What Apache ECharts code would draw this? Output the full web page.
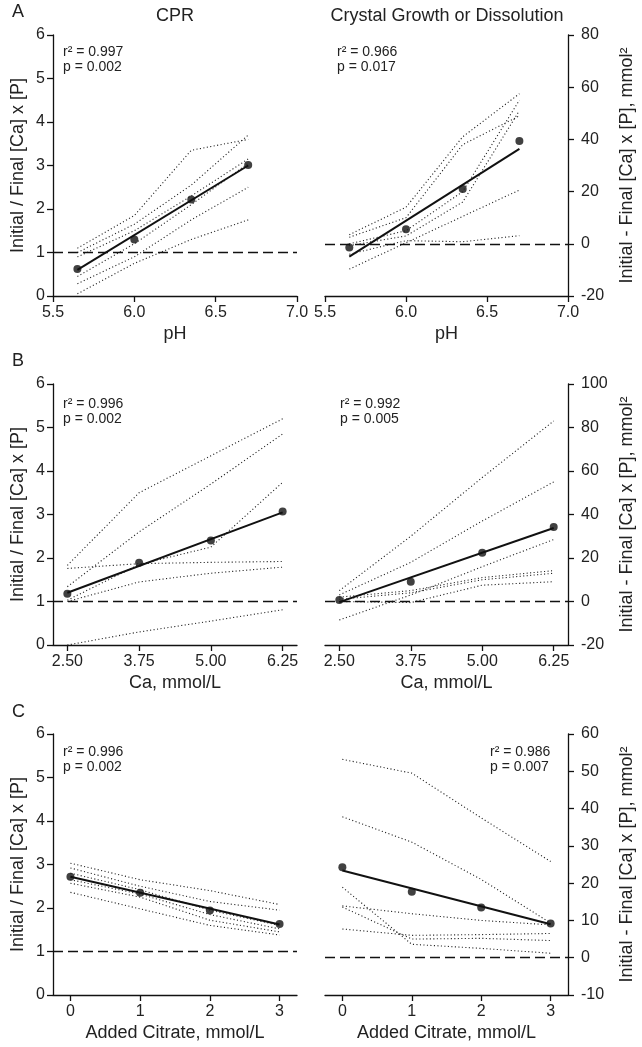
<!DOCTYPE html>
<html><head><meta charset="utf-8">
<script src="https://cdn.jsdelivr.net/npm/echarts@6/dist/echarts.min.js"></script>
<style>html,body{margin:0;padding:0;background:#fff}#c{width:642px;height:1047px}</style>
</head><body><div id="c"></div>
<script>
// ---- data ----
const phX = [5.65, 6.0, 6.35, 6.7];
const caX = [2.5, 3.75, 5.0, 6.25];
const citX = [0, 1, 2, 3];

const phTicks = [5.5, 6.0, 6.5, 7.0];
const caTicks = [2.5, 3.75, 5.0, 6.25];
const citTicks = [0, 1, 2, 3];

// Row A: pH
const cprPhMean = [0.62, 1.30, 2.22, 3.01];
const cprPhFit = [0.6, 3.0];
const cprPhRuns = [
  [1.1, 1.85, 3.35, 3.6],
  [1.0, 1.65, 2.55, 3.7],
  [0.9, 1.5, 2.3, 3.15],
  [0.45, 1.2, 2.1, 3.05],
  [0.28, 0.9, 1.75, 2.5],
  [0.05, 0.75, 1.3, 1.75]
];
const cgdPhMean = [-1.4, 5.6, 21.0, 39.4];
const cgdPhFit = [-4.9, 36.4];
const cgdPhRuns = [
  [3.5, 14, 41, 57.5],
  [2.5, 10, 38, 49],
  [0, 5, 20, 55],
  [-0.7, 3, 16, 51],
  [-4, 1.2, 0.8, 3.1],
  [-9.7, 0.4, 10.5, 20.6]
];

// Row B: Ca
const cprCaMean = [1.18, 1.89, 2.40, 3.07];
const cprCaFit = [1.2, 3.05];
const cprCaRuns = [
  [1.83, 3.5, 4.35, 5.2],
  [1.34, 2.6, 3.7, 4.85],
  [1.03, 1.85, 2.25, 3.74],
  [1.76, 1.87, 1.9, 1.92],
  [1.0, 1.45, 1.65, 1.79],
  [0.0, 0.3, 0.55, 0.81]
];
const cgdCaMean = [0.7, 9.1, 22.4, 34.3];
const cgdCaFit = [-0.3, 33.8];
const cgdCaRuns = [
  [5, 30, 57, 83],
  [3, 18, 37, 55],
  [-8.5, 3, 16, 28.5],
  [2, 5, 11, 14.2],
  [1, 4, 10, 13],
  [0, -0.5, 7.5, 9.1]
];

// Row C: citrate
const cprCitMean = [2.72, 2.35, 1.94, 1.63];
const cprCitFit = [2.72, 1.62];
const cprCitRuns = [
  [3.03, 2.65, 2.4, 2.08],
  [2.92, 2.5, 2.15, 1.95],
  [2.8, 2.42, 1.95, 1.6],
  [2.65, 2.32, 1.85, 1.52],
  [2.57, 2.25, 1.72, 1.45],
  [2.36, 1.98, 1.6, 1.38]
];
const cgdCitMean = [24.25, 17.7, 13.5, 9.2];
const cgdCitFit = [23.4, 9.0];
const cgdCitRuns = [
  [53.2, 49.5, 37.5, 25.8],
  [37.8, 31, 21, 9.3],
  [18.9, 3.6, 2.5, 1.2],
  [13.9, 11.8, 10, 8.8],
  [13.6, 5.0, 5.2, 4.6],
  [7.7, 6.0, 6.2, 6.5]
];

const stats = [
  ['r\u00b2 = 0.997', 'p = 0.002'],
  ['r\u00b2 = 0.966', 'p = 0.017'],
  ['r\u00b2 = 0.996', 'p = 0.002'],
  ['r\u00b2 = 0.992', 'p = 0.005'],
  ['r\u00b2 = 0.996', 'p = 0.002'],
  ['r\u00b2 = 0.986', 'p = 0.007']
];

// ---- chart ----
const FONT = 'Liberation Sans, Arial, sans-serif';
const TXT = '#222';
const chart = echarts.init(document.getElementById('c'), null, {renderer: 'canvas'});

const tops = [35, 384, 734];
const H = 261;
const grids = [];
for (let r = 0; r < 3; r++) {
  grids.push({left: 53, top: tops[r], width: 244, height: H});
  grids.push({left: 325, top: tops[r], width: 243, height: H});
}

const axisLine = {show: true, onZero: false, lineStyle: {color: '#111', width: 1.3}};
const axisTick = {show: true, inside: false, length: 6, lineStyle: {color: '#111', width: 1.3}};

const xDefs = [
  {min: 5.5, max: 7.0, ticks: phTicks, dec: 1, name: 'pH'},
  {min: 2.25, max: 6.5, ticks: caTicks, dec: 2, name: 'Ca, mmol/L'},
  {min: -0.25, max: 3.25, ticks: citTicks, dec: 0, name: 'Added Citrate, mmol/L'}
];
const xAxes = [];
for (let i = 0; i < 6; i++) {
  const d = xDefs[Math.floor(i / 2)];
  xAxes.push({
    type: 'value', gridIndex: i, min: d.min, max: d.max,
    name: d.name, nameLocation: 'middle', nameGap: 29,
    nameTextStyle: {fontFamily: FONT, fontSize: 18, color: TXT},
    axisLine: axisLine,
    axisTick: Object.assign({customValues: d.ticks}, axisTick),
    axisLabel: {customValues: d.ticks, fontFamily: FONT, fontSize: 16, color: TXT, margin: 9,
      formatter: v => Number(v).toFixed(d.dec)},
    splitLine: {show: false}
  });
}
const yRight = [
  {min: -20, max: 80, interval: 20},
  {min: -20, max: 100, interval: 20},
  {min: -10, max: 60, interval: 10}
];
const yAxes = [];
for (let i = 0; i < 6; i++) {
  const left = i % 2 === 0;
  const r = Math.floor(i / 2);
  if (left) {
    yAxes.push({
      type: 'value', gridIndex: i, position: 'left', min: 0, max: 6, interval: 1,
      name: 'Initial / Final [Ca] x [P]', nameLocation: 'middle', nameGap: 26, nameRotate: 90,
      nameTextStyle: {fontFamily: FONT, fontSize: 18, color: TXT},
      axisLine: axisLine, axisTick: axisTick,
      axisLabel: {fontFamily: FONT, fontSize: 16, color: TXT, margin: 8},
      splitLine: {show: false}
    });
  } else {
    yAxes.push({
      type: 'value', gridIndex: i, position: 'right', min: yRight[r].min, max: yRight[r].max, interval: yRight[r].interval,
      name: 'Initial - Final [Ca] x [P], mmol\u00b2', nameLocation: 'middle', nameGap: 50, nameRotate: 90,
      nameTextStyle: {fontFamily: FONT, fontSize: 18, color: TXT},
      axisLine: axisLine, axisTick: axisTick,
      axisLabel: {fontFamily: FONT, fontSize: 16, color: TXT, margin: 13},
      splitLine: {show: false}
    });
  }
}

const panels = [
  {x: phX, mean: cprPhMean, fit: cprPhFit, runs: cprPhRuns, ref: 1},
  {x: phX, mean: cgdPhMean, fit: cgdPhFit, runs: cgdPhRuns, ref: 0},
  {x: caX, mean: cprCaMean, fit: cprCaFit, runs: cprCaRuns, ref: 1},
  {x: caX, mean: cgdCaMean, fit: cgdCaFit, runs: cgdCaRuns, ref: 0},
  {x: citX, mean: cprCitMean, fit: cprCitFit, runs: cprCitRuns, ref: 1},
  {x: citX, mean: cgdCitMean, fit: cgdCitFit, runs: cgdCitRuns, ref: 0}
];

const series = [];
panels.forEach((p, i) => {
  p.runs.forEach(run => {
    series.push({
      type: 'line', xAxisIndex: i, yAxisIndex: i, silent: true, symbol: 'none',
      data: run.map((v, k) => [p.x[k], v]),
      lineStyle: {color: '#222', width: 1.1, type: [1.1, 2.4]}
    });
  });
  const n = p.x.length - 1;
  series.push({
    type: 'line', xAxisIndex: i, yAxisIndex: i, silent: true, symbol: 'none',
    data: [[p.x[0], p.fit[0]], [p.x[n], p.fit[1]]],
    lineStyle: {color: '#111', width: 2},
    markLine: {silent: true, symbol: 'none', label: {show: false},
      lineStyle: {color: '#111', width: 1.3, type: [10, 5]},
      data: [{yAxis: p.ref}]}
  });
  series.push({
    type: 'scatter', xAxisIndex: i, yAxisIndex: i, silent: true, symbolSize: 8,
    itemStyle: {color: '#111'},
    data: p.mean.map((v, k) => [p.x[k], v])
  });
});

const graphic = [];
function txt(x, y, s, size, align) {
  graphic.push({type: 'text', x: x, y: y, style: {text: s, fontFamily: FONT, fontSize: size, fill: TXT,
    textAlign: align || 'left', textVerticalAlign: 'middle'}});
}
txt(12, 12, 'A', 18); txt(12, 361, 'B', 18); txt(12, 712, 'C', 18);
txt(175, 16, 'CPR', 18, 'center');
txt(447, 16, 'Crystal Growth or Dissolution', 18, 'center');
const statPos = [[63, 52], [337, 52], [63, 404], [340, 404], [63, 752], [490, 752]];
stats.forEach((s, i) => {
  txt(statPos[i][0], statPos[i][1], s[0], 14);
  txt(statPos[i][0], statPos[i][1] + 15, s[1], 14);
});

chart.setOption({
  animation: false,
  backgroundColor: '#fff',
  grid: grids, xAxis: xAxes, yAxis: yAxes, series: series, graphic: graphic
});
</script></body></html>
